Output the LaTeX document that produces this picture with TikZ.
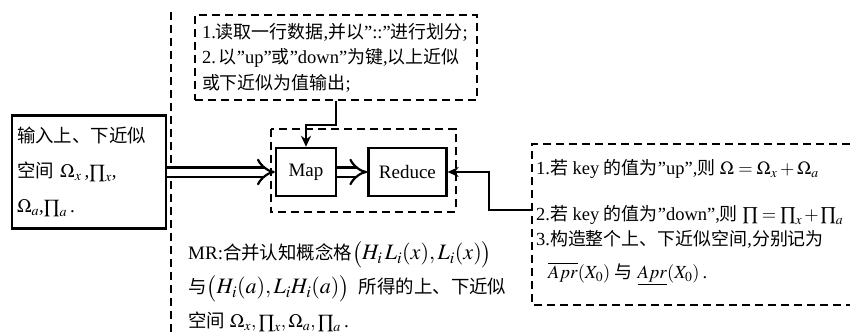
\documentclass[tikz,border=0pt]{standalone}
\usepackage{amsmath}
\usepackage{mathptmx}
\usepackage{fontspec}
\setmainfont{Liberation Serif}
\newfontfamily\cjk[Scale=0.97]{Noto Sans CJK SC}
\newcommand{\zh}[1]{{\cjk #1}}
\newcommand{\bigmath}[1]{{\fontsize{22}{22}\selectfont$#1$}}
\usetikzlibrary{positioning, arrows.meta, calc}

\tikzset{
	box/.style={draw, line width=2.4pt, minimum height=48pt, inner sep=3pt},
	dashbox/.style={draw, line width=2pt, dash pattern=on 8pt off 5pt},
	dbl/.style={double, double distance=7pt, line width=2.2pt, -{Implies[scale=1.3]}},
	link/.style={line width=2.4pt, -{Stealth[length=11pt,width=10pt]}},
}

\begin{document}
\begin{tikzpicture}[x=1pt, y=-1pt, line join=miter, font=\fontsize{19}{22}\selectfont]
			
			% Marco de la figura (coordenadas en pixeles)
			\useasboundingbox (0,0) rectangle (850,334);
			
			% --- Linea divisoria vertical ---
			\coordinate (sepTop) at (171,12);
			\coordinate (sepBot) at (171,334);
			\draw[dashbox] (sepTop) -- (sepBot);
			
			% --- Entrada ---
			\node[box, minimum width=154pt, minimum height=113pt, text width=144pt, align=left,
				font=\fontsize{19}{35}\selectfont] (input) at (89,172)
				{\zh{输入上、下近似}\\
				 \zh{空间} $\Omega_x$\,,$\prod_x$,\\
				 $\Omega_a$,$\prod_a$\,.};
			
			% --- Map y Reduce ---
			\node[box, minimum width=60pt] (map) at (306,172) {Map};
			\node[box, minimum width=78pt, right=30pt of map] (reduce) {Reduce};
			\draw[dashbox] ($(map.north west)+(-4,-18)$) rectangle ($(reduce.south east)+(8,15)$);
			
			% --- Descripcion de Map ---
			\node[dashbox, minimum width=282pt, minimum height=85pt, text width=268pt, align=left,
				inner sep=2pt, font=\fontsize{18.5}{25.5}\selectfont] (split) at (336,57.5)
				{1.\zh{读取一行数据},\zh{并以}''::''\zh{进行划分};\\
				 2.\,\zh{以}''up''\zh{或}''down''\zh{为键},\zh{以上近似}\\
				 \zh{或下近似为值输出};};
			
			% --- Descripcion de Reduce (caja abierta a la derecha) ---
			\coordinate (rTop) at (850,144);
			\coordinate (rCorner) at (532,305);
			\coordinate (rBot) at (850,305);
			\draw[dashbox] (rTop) -| (rCorner) -- (rBot);
			\node[align=left, inner sep=2pt, anchor=north west, font=\fontsize{18.5}{32}\selectfont] (merge) at (534,157)
				{1.\zh{若} key \zh{的值为}''up'',\zh{则} $\Omega = \Omega_x + \Omega_a$\\[14pt]
				 2.\zh{若} key \zh{的值为}''down'',\zh{则} $\prod = \prod_x + \prod_a$\\[-7pt]
				 3.\zh{构造整个上、下近似空间},\zh{分别记为}\\[1pt]
				 \hspace{12pt}$\overline{Apr}(X_0)$ \zh{与} $\underline{Apr}(X_0)$\,.};
			
			% --- Texto MR ---
			\node[align=left, inner sep=2pt, anchor=north west, font=\fontsize{19}{34}\selectfont] (mr) at (186,239)
				{MR:\zh{合并认知概念格}\bigmath{\bigl(H_i\,L_i(x), L_i(x)\bigr)}\\
				 \zh{与}\bigmath{\bigl(H_i(a), L_iH_i(a)\bigr)} \ \zh{所得的上、下近似}\\
				 \zh{空间} $\Omega_x,\prod_x,\Omega_a,\prod_a$\,.};
			
			% --- Flechas ---
			\draw[dbl] (input.east) -- (map.west);
			\draw[dbl] (map.east) -- (reduce.west);
			\draw[link] (split.south) -- ++(0,24) -| (map.north);
			\coordinate (rIn) at (532,210);
			\draw[link] (rIn) -- ++(-43,0) |- (reduce.east);
			
		\end{tikzpicture}
\end{document}
